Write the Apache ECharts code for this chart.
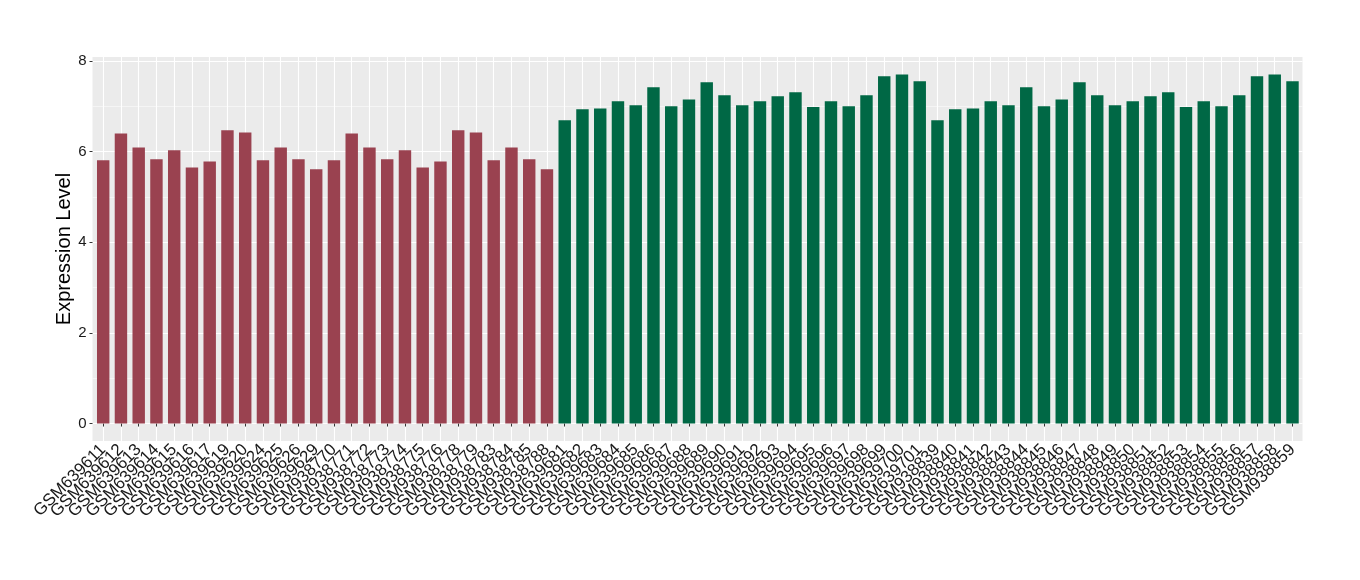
<!DOCTYPE html>
<html><head><meta charset="utf-8">
<script src="https://cdn.jsdelivr.net/npm/echarts@6/dist/echarts.min.js"></script>
<style>html,body{margin:0;padding:0;background:#fff}#c{width:1360px;height:580px}</style>
</head><body><div id="c"></div>
<script>
const groupACategories = ["GSM639611","GSM639612","GSM639613","GSM639614","GSM639615","GSM639616","GSM639617","GSM639619","GSM639620","GSM639624","GSM639625","GSM639626","GSM639629","GSM938770","GSM938771","GSM938772","GSM938773","GSM938774","GSM938775","GSM938776","GSM938778","GSM938779","GSM938783","GSM938784","GSM938785","GSM938788"];
const groupBCategories = ["GSM639681","GSM639682","GSM639683","GSM639684","GSM639685","GSM639686","GSM639687","GSM639688","GSM639689","GSM639690","GSM639691","GSM639692","GSM639693","GSM639694","GSM639695","GSM639696","GSM639697","GSM639698","GSM639699","GSM639700","GSM639701","GSM938839","GSM938840","GSM938841","GSM938842","GSM938843","GSM938844","GSM938845","GSM938846","GSM938847","GSM938848","GSM938849","GSM938850","GSM938851","GSM938852","GSM938853","GSM938854","GSM938855","GSM938856","GSM938857","GSM938858","GSM938859"];
const groupAValues = [5.81,6.40,6.09,5.83,6.03,5.65,5.78,6.47,6.42,5.81,6.09,5.83,5.61,5.81,6.40,6.09,5.83,6.03,5.65,5.78,6.47,6.42,5.81,6.09,5.83,5.61];
const groupBValues = [6.69,6.93,6.95,7.11,7.02,7.42,7.00,7.15,7.53,7.24,7.02,7.11,7.22,7.31,6.98,7.11,7.00,7.24,7.66,7.70,7.55,6.69,6.93,6.95,7.11,7.02,7.42,7.00,7.15,7.53,7.24,7.02,7.11,7.22,7.31,6.98,7.11,7.00,7.24,7.66,7.70,7.55];
const yTickValues = [0,2,4,6,8];
const yAxisTitle = "Expression Level";

const categories = groupACategories.concat(groupBCategories);
const seriesA = groupAValues.concat(groupBCategories.map(() => '-'));
const seriesB = groupACategories.map(() => '-').concat(groupBValues);

const FONT = "'Liberation Sans', Arial, Helvetica, sans-serif";
const panel = {left: 92.5, top: 57, width: 1210, height: 384};
const yMin = -0.385, yMax = 8.085;
const pxPerUnit = panel.height / (yMax - yMin);
const y0 = panel.top + panel.height + yMin * pxPerUnit; // pixel of value 0
const firstCenter = 103.2, lastCenter = 1292.5;

const chart = echarts.init(document.getElementById('c'), null, {renderer: 'canvas'});
chart.setOption({
  animation: false,
  backgroundColor: '#ffffff',
  grid: [
    {left: panel.left, top: panel.top, width: panel.width, height: panel.height, show: true,
     backgroundColor: '#EBEBEB', borderWidth: 0, containLabel: false, outerBoundsMode: 'none', z: -5},
    {left: firstCenter, top: panel.top, width: lastCenter - firstCenter, height: panel.height,
     containLabel: false, outerBoundsMode: 'none'},
    {left: panel.left, top: y0 - yTickValues[yTickValues.length-1] * pxPerUnit, width: panel.width,
     height: yTickValues[yTickValues.length-1] * pxPerUnit, containLabel: false, outerBoundsMode: 'none'}
  ],
  xAxis: [
    {gridIndex: 0, type: 'value', show: false},
    {gridIndex: 1, type: 'category', data: categories, boundaryGap: false, z: 1,
     axisLine: {show: false},
     axisTick: {show: true, interval: 0, length: 3, lineStyle: {color: '#333333', width: 1}},
     axisLabel: {interval: 0, rotate: 45, margin: 6, fontSize: 17, color: '#1a1a1a', fontFamily: FONT},
     splitLine: {show: true, interval: 0, lineStyle: {color: '#ffffff', width: 1.1}}},
    {gridIndex: 2, type: 'value', show: false}
  ],
  yAxis: [
    {gridIndex: 0, type: 'value', show: false},
    {gridIndex: 1, type: 'value', min: yMin, max: yMax, z: 1,
     axisLine: {show: false}, axisTick: {show: false}, axisLabel: {show: false}, splitLine: {show: false},
     name: yAxisTitle, nameLocation: 'middle', nameGap: 29,
     nameTextStyle: {fontSize: 20, color: '#000000', fontFamily: FONT}},
    {gridIndex: 2, type: 'value', min: yTickValues[0], max: yTickValues[yTickValues.length-1], interval: 2, z: 1,
     axisLine: {show: false},
     axisTick: {show: true, length: 3, lineStyle: {color: '#333333', width: 1}},
     axisLabel: {margin: 6, fontSize: 15, color: '#1a1a1a', fontFamily: FONT},
     splitLine: {show: true, lineStyle: {color: '#ffffff', width: 1.1}},
     minorTick: {show: false, splitNumber: 2},
     minorSplitLine: {show: true, lineStyle: {color: '#ffffff', width: 0.5}}}
  ],
  series: [
    {type: 'bar', xAxisIndex: 1, yAxisIndex: 1, stack: 'g', data: seriesA, barWidth: '70%',
     itemStyle: {color: '#9A4250'}},
    {type: 'bar', xAxisIndex: 1, yAxisIndex: 1, stack: 'g', data: seriesB, barWidth: '70%',
     itemStyle: {color: '#006845'}}
  ]
});
</script></body></html>
